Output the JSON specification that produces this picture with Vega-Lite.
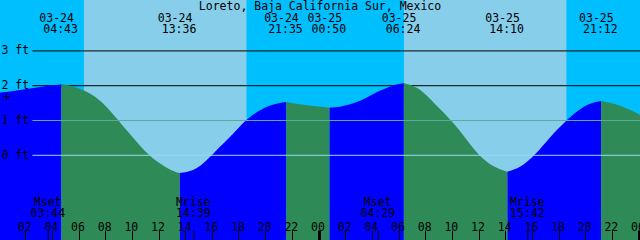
{
  "$schema": "https://vega.github.io/schema/vega-lite/v6.json",
  "width": 640,
  "height": 240,
  "padding": 0,
  "autosize": "none",
  "background": "#00BFFF",
  "config": {
    "view": {"stroke": null},
    "text": {"font": "DejaVu Sans Mono", "fontSize": 11.5, "color": "black"},
    "axis": {"labelFont": "DejaVu Sans Mono", "labelFontSize": 11.5, "labelColor": "black", "zindex": 1, "grid": false, "domain": false, "labelOverlap": false, "labelFlush": false}
  },
  "title": {
    "text": "Loreto, Baja California Sur, Mexico",
    "font": "DejaVu Sans Mono",
    "fontSize": 11.5,
    "fontWeight": "normal",
    "color": "black",
    "anchor": "middle",
    "frame": "group",
    "baseline": "alphabetic",
    "offset": -9.5,
    "dy": 11.5
  },
  "datasets": {
    "sky": [
      {"t": -0.5, "t2": 6.41, "sky": "night"},
      {"t": 6.41, "t2": 18.615, "sky": "day"},
      {"t": 18.615, "t2": 30.41, "sky": "night"},
      {"t": 30.41, "t2": 42.61, "sky": "day"},
      {"t": 42.61, "t2": 48.6, "sky": "night"}
    ],
    "levels": [{"h": 3}, {"h": 2}, {"h": 1}, {"h": 0}],
    "tide": [
      {"t": -0.3, "h": 1.78, "seg": 1, "phase": "rising"},
      {"t": 1.0, "h": 1.84, "seg": 1, "phase": "rising"},
      {"t": 2.0, "h": 1.9, "seg": 1, "phase": "rising"},
      {"t": 3.0, "h": 1.96, "seg": 1, "phase": "rising"},
      {"t": 4.0, "h": 2.01, "seg": 1, "phase": "rising"},
      {"t": 4.717, "h": 2.04, "seg": 1, "phase": "rising"},
      {"t": 4.717, "h": 2.04, "seg": 2, "phase": "falling"},
      {"t": 5.51, "h": 2.0, "seg": 2, "phase": "falling"},
      {"t": 6.36, "h": 1.88, "seg": 2, "phase": "falling"},
      {"t": 7.01, "h": 1.74, "seg": 2, "phase": "falling"},
      {"t": 7.61, "h": 1.58, "seg": 2, "phase": "falling"},
      {"t": 8.36, "h": 1.29, "seg": 2, "phase": "falling"},
      {"t": 8.99, "h": 1.0, "seg": 2, "phase": "falling"},
      {"t": 10.11, "h": 0.5, "seg": 2, "phase": "falling"},
      {"t": 11.24, "h": 0.0, "seg": 2, "phase": "falling"},
      {"t": 12.0, "h": -0.21, "seg": 2, "phase": "falling"},
      {"t": 13.0, "h": -0.45, "seg": 2, "phase": "falling"},
      {"t": 13.6, "h": -0.51, "seg": 2, "phase": "falling"},
      {"t": 13.6, "h": -0.51, "seg": 3, "phase": "rising"},
      {"t": 14.36, "h": -0.47, "seg": 3, "phase": "rising"},
      {"t": 15.11, "h": -0.33, "seg": 3, "phase": "rising"},
      {"t": 15.99, "h": 0.0, "seg": 3, "phase": "rising"},
      {"t": 16.61, "h": 0.25, "seg": 3, "phase": "rising"},
      {"t": 17.61, "h": 0.62, "seg": 3, "phase": "rising"},
      {"t": 18.49, "h": 1.0, "seg": 3, "phase": "rising"},
      {"t": 19.37, "h": 1.25, "seg": 3, "phase": "rising"},
      {"t": 20.11, "h": 1.4, "seg": 3, "phase": "rising"},
      {"t": 20.86, "h": 1.49, "seg": 3, "phase": "rising"},
      {"t": 21.583, "h": 1.53, "seg": 3, "phase": "rising"},
      {"t": 21.583, "h": 1.53, "seg": 4, "phase": "falling"},
      {"t": 22.61, "h": 1.47, "seg": 4, "phase": "falling"},
      {"t": 23.61, "h": 1.41, "seg": 4, "phase": "falling"},
      {"t": 24.833, "h": 1.37, "seg": 4, "phase": "falling"},
      {"t": 24.833, "h": 1.37, "seg": 5, "phase": "rising"},
      {"t": 25.61, "h": 1.39, "seg": 5, "phase": "rising"},
      {"t": 26.36, "h": 1.46, "seg": 5, "phase": "rising"},
      {"t": 27.11, "h": 1.56, "seg": 5, "phase": "rising"},
      {"t": 27.61, "h": 1.66, "seg": 5, "phase": "rising"},
      {"t": 28.61, "h": 1.86, "seg": 5, "phase": "rising"},
      {"t": 29.59, "h": 2.02, "seg": 5, "phase": "rising"},
      {"t": 30.4, "h": 2.07, "seg": 5, "phase": "rising"},
      {"t": 30.4, "h": 2.07, "seg": 6, "phase": "falling"},
      {"t": 31.36, "h": 1.97, "seg": 6, "phase": "falling"},
      {"t": 32.11, "h": 1.73, "seg": 6, "phase": "falling"},
      {"t": 32.86, "h": 1.42, "seg": 6, "phase": "falling"},
      {"t": 33.99, "h": 1.0, "seg": 6, "phase": "falling"},
      {"t": 35.11, "h": 0.45, "seg": 6, "phase": "falling"},
      {"t": 35.99, "h": 0.0, "seg": 6, "phase": "falling"},
      {"t": 37.11, "h": -0.34, "seg": 6, "phase": "falling"},
      {"t": 38.167, "h": -0.47, "seg": 6, "phase": "falling"},
      {"t": 38.167, "h": -0.47, "seg": 7, "phase": "rising"},
      {"t": 39.11, "h": -0.37, "seg": 7, "phase": "rising"},
      {"t": 40.24, "h": 0.0, "seg": 7, "phase": "rising"},
      {"t": 41.36, "h": 0.53, "seg": 7, "phase": "rising"},
      {"t": 42.61, "h": 1.01, "seg": 7, "phase": "rising"},
      {"t": 43.36, "h": 1.25, "seg": 7, "phase": "rising"},
      {"t": 43.86, "h": 1.4, "seg": 7, "phase": "rising"},
      {"t": 44.49, "h": 1.5, "seg": 7, "phase": "rising"},
      {"t": 45.2, "h": 1.56, "seg": 7, "phase": "rising"},
      {"t": 45.2, "h": 1.56, "seg": 8, "phase": "falling"},
      {"t": 46.37, "h": 1.47, "seg": 8, "phase": "falling"},
      {"t": 47.61, "h": 1.27, "seg": 8, "phase": "falling"},
      {"t": 48.3, "h": 1.12, "seg": 8, "phase": "falling"}
    ],
    "tides": [
      {"t": 4.717, "date": "03-24", "time": "04:43"},
      {"t": 13.6, "date": "03-24", "time": "13:36"},
      {"t": 21.583, "date": "03-24", "time": "21:35"},
      {"t": 24.833, "date": "03-25", "time": "00:50"},
      {"t": 30.4, "date": "03-25", "time": "06:24"},
      {"t": 38.167, "date": "03-25", "time": "14:10"},
      {"t": 45.2, "date": "03-25", "time": "21:12"}
    ],
    "moon": [
      {"t": 3.733, "ev": "Mset", "time": "03:44"},
      {"t": 14.65, "ev": "Mrise", "time": "14:39"},
      {"t": 28.483, "ev": "Mset", "time": "04:29"},
      {"t": 39.7, "ev": "Mrise", "time": "15:42"}
    ],
    "marker": [{"t": 0.615, "h": 1.66}]
  },
  "layer": [
    {
      "data": {"name": "sky"},
      "mark": {"type": "rect", "clip": true},
      "encoding": {
        "x": {"field": "t", "type": "quantitative"},
        "x2": {"field": "t2"},
        "y": {"datum": 4.463, "type": "quantitative"},
        "y2": {"datum": -2.434},
        "fill": {"field": "sky", "type": "nominal", "scale": {"domain": ["night", "day"], "range": ["#00BFFF", "#87CEEB"]}, "legend": null}
      }
    },
    {
      "data": {"name": "levels"},
      "transform": [{"filter": "datum.h >= 2"}],
      "mark": {"type": "rule", "color": "black", "strokeWidth": 1, "clip": true},
      "encoding": {
        "x": {"datum": 2.54, "type": "quantitative"},
        "x2": {"datum": 48.3},
        "y": {"field": "h", "type": "quantitative"}
      }
    },
    {
      "data": {"name": "tide"},
      "mark": {"type": "area", "interpolate": "basis", "clip": true},
      "encoding": {
        "x": {
          "field": "t", "type": "quantitative",
          "scale": {"domain": [0.1125, 48.1125], "nice": false, "zero": false},
          "axis": {
            "orient": "bottom", "offset": -10, "title": null, "zindex": 1,
            "values": [0, 2, 4, 6, 8, 10, 12, 14, 16, 18, 20, 22, 24, 26, 28, 30, 32, 34, 36, 38, 40, 42, 44, 46, 48],
            "tickCount": 60,
            "domain": false, "grid": false,
            "ticks": true, "tickSize": 10, "tickColor": "black",
            "tickWidth": {"condition": {"test": "datum.value % 24 === 0", "value": 3}, "value": 1},
            "labelPadding": -10, "labelBaseline": "alphabetic", "labelOffset": -1,
            "labelFlush": false, "labelOverlap": false, "labelBound": false,
            "labelExpr": "(datum.value % 24 < 10 ? '0' : '') + (datum.value % 24)"
          }
        },
        "y": {
          "field": "h", "type": "quantitative", "stack": null,
          "scale": {"domain": [-2.434, 4.463], "nice": false, "zero": false},
          "axis": {
            "orient": "left", "title": null, "zindex": 1,
            "values": [0, 1, 2, 3],
            "tickCount": 20,
            "domain": false, "grid": false, "ticks": false,
            "labelAlign": "left", "labelPadding": -1, "labelBaseline": "alphabetic", "labelOffset": 3,
            "labelFlush": false, "labelOverlap": false,
            "labelExpr": "datum.value + ' ft'"
          }
        },
        "y2": {"datum": -2.434},
        "color": {"field": "phase", "type": "nominal", "scale": {"domain": ["rising", "falling"], "range": ["#0000FF", "#2E8B57"]}, "legend": null},
        "detail": {"field": "seg", "type": "nominal"}
      }
    },
    {
      "data": {"name": "levels"},
      "transform": [{"filter": "datum.h == 1"}],
      "mark": {"type": "rule", "color": "#5CAA9C", "strokeWidth": 1, "clip": true},
      "encoding": {
        "x": {"datum": 2.54, "type": "quantitative"},
        "x2": {"datum": 48.3},
        "y": {"field": "h", "type": "quantitative"}
      }
    },
    {
      "data": {"name": "levels"},
      "transform": [{"filter": "datum.h == 0"}],
      "mark": {"type": "rule", "color": "#9AD6F0", "strokeWidth": 1, "clip": true},
      "encoding": {
        "x": {"datum": 2.54, "type": "quantitative"},
        "x2": {"datum": 48.3},
        "y": {"field": "h", "type": "quantitative"}
      }
    },
    {
      "data": {"name": "moon"},
      "mark": {"type": "rule", "color": "black", "strokeWidth": 1},
      "encoding": {
        "x": {"field": "t", "type": "quantitative"},
        "y": {"datum": -2.434, "type": "quantitative"},
        "y2": {"datum": -2.161}
      }
    },
    {
      "data": {"name": "tides"},
      "mark": {"type": "text", "align": "center", "baseline": "alphabetic", "dx": -4.8},
      "encoding": {
        "x": {"field": "t", "type": "quantitative"},
        "y": {"datum": 3.839, "type": "quantitative"},
        "text": {"field": "date"}
      }
    },
    {
      "data": {"name": "tides"},
      "mark": {"type": "text", "align": "center", "baseline": "alphabetic", "dx": -0.8},
      "encoding": {
        "x": {"field": "t", "type": "quantitative"},
        "y": {"datum": 3.506, "type": "quantitative"},
        "text": {"field": "time"}
      }
    },
    {
      "data": {"name": "moon"},
      "mark": {"type": "text", "align": "center", "baseline": "alphabetic", "dx": -0.6},
      "encoding": {
        "x": {"field": "t", "type": "quantitative"},
        "y": {"datum": -1.457, "type": "quantitative"},
        "text": {"field": "ev"}
      }
    },
    {
      "data": {"name": "moon"},
      "mark": {"type": "text", "align": "center", "baseline": "alphabetic", "dx": -0.4},
      "encoding": {
        "x": {"field": "t", "type": "quantitative"},
        "y": {"datum": -1.782, "type": "quantitative"},
        "text": {"field": "time"}
      }
    },
    {
      "data": {"name": "marker"},
      "mark": {"type": "text", "align": "center", "baseline": "middle", "text": "+"},
      "encoding": {
        "x": {"field": "t", "type": "quantitative"},
        "y": {"field": "h", "type": "quantitative"}
      }
    }
  ]
}
